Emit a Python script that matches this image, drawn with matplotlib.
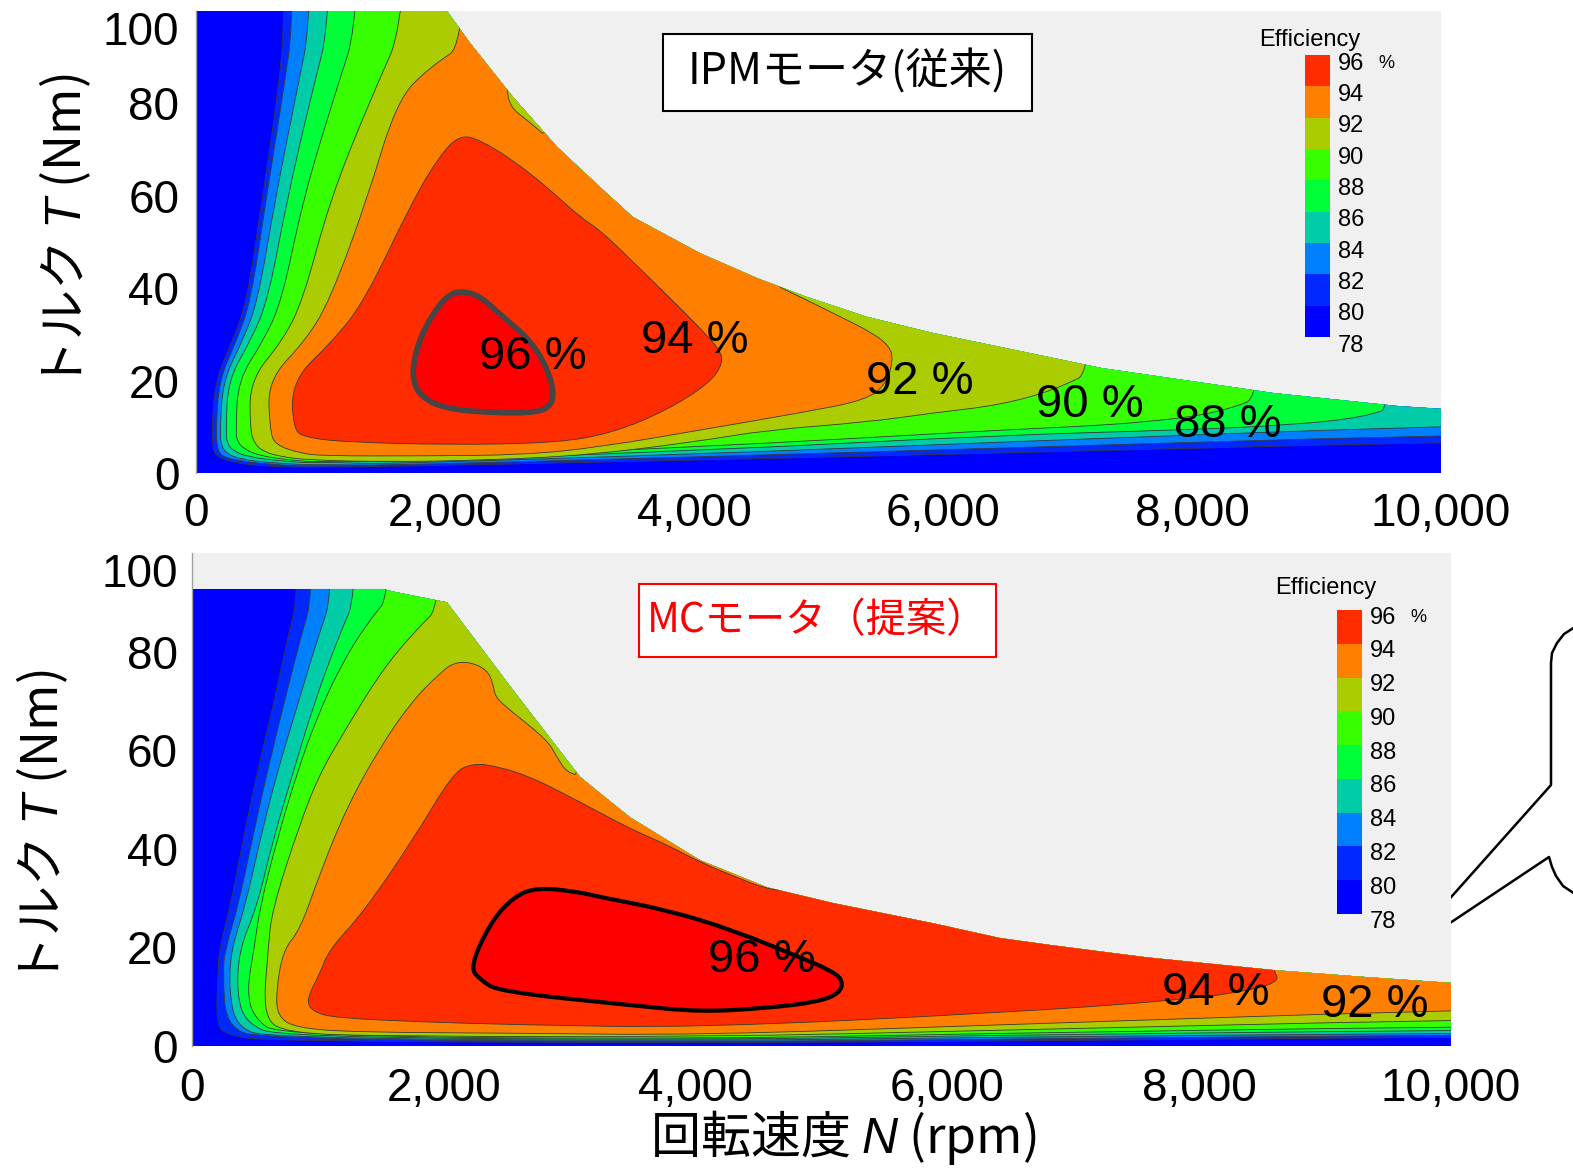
import matplotlib
matplotlib.use("Agg")
import matplotlib.pyplot as plt
from matplotlib.patches import Polygon, Rectangle, PathPatch
from matplotlib.path import Path
from matplotlib.lines import Line2D

plt.rcParams["font.family"] = ["Liberation Sans", "Noto Sans CJK JP", "DejaVu Sans"]
plt.rcParams["mathtext.fontset"] = "custom"
plt.rcParams["mathtext.it"] = "Liberation Sans:italic"
plt.rcParams["mathtext.rm"] = "Liberation Sans"

W, H = 1573, 1170
JP = ["Noto Sans CJK JP"]

# efficiency scale (%): one colour per 2-point band, the last one is the >=96 core
LEGEND_TICKS = [78, 80, 82, 84, 86, 88, 90, 92, 94, 96]
BAND_COLORS = ["#0000ff", "#0028ff", "#0080ff", "#00cca8", "#00ff38",
               "#38ff00", "#aacc00", "#ff8000", "#ff2c00", "#ff0000"]
SPEED_TICKS = [0, 2000, 4000, 6000, 8000, 10000]
TORQUE_TICKS = [0, 20, 40, 60, 80, 100]

# ---- IPM motor (conventional): (speed rpm, torque Nm) ----
ipm_envelope = [(0, 104.5), (1900, 104.5), (2016, 100.0), (2201, 93.1), (2546, 81.4),
                (2900, 70.6), (3245, 61.9), (3510, 55.4), (4048, 47.6), (4506, 42.2),
                (4908, 38.1), (5390, 33.8), (5920, 30.3), (6458, 27.3), (7277, 22.7),
                (8659, 17.3), (9655, 14.5), (10000, 13.9)]
ipm_80 = [(723, 100), (651, 80.7), (530, 59.1), (410, 37.4), (297, 28.8), (153, 20.1),
          (129, 9.3), (133, 5.6), (161, 3.7), (273, 2.4), (514, 1.5), (1020, 1.1),
          (4048, 2.8), (6458, 4.3), (10000, 6.7)]
ipm_82 = [(795, 100), (691, 80.7), (562, 59.1), (442, 37.4), (329, 28.8), (185, 20.1),
          (161, 9.3), (169, 5.6), (201, 3.7), (313, 2.8), (554, 1.9), (1020, 1.3),
          (4048, 3.5), (6458, 5.4), (10000, 8.2)]
ipm_84 = [(940, 100), (795, 80.7), (635, 59.1), (498, 37.4), (378, 28.8), (217, 20.1),
          (193, 9.3), (201, 6.1), (241, 4.3), (353, 3.0), (594, 2.2), (1020, 1.6),
          (4048, 4.1), (6458, 6.7), (10000, 10.2)]
ipm_86 = [(1100, 100), (916, 80.7), (731, 59.1), (578, 37.4), (442, 28.8), (257, 20.1),
          (241, 9.3), (249, 6.5), (297, 4.8), (418, 3.5), (675, 2.6), (1020, 2.0),
          (4048, 4.8), (6458, 8.2), (7920, 9.3), (8803, 10.4), (9390, 12.1), (9655, 14.8)]
ipm_88 = [(1333, 100), (1100, 80.7), (859, 59.1), (691, 37.4), (546, 28.8), (337, 20.1),
          (321, 9.3), (329, 6.9), (385, 5.2), (514, 3.7), (755, 2.8), (1020, 2.2),
          (4048, 5.6), (6458, 9.3), (7044, 10.0), (7630, 11.0), (8217, 13.0), (8659, 17.6)]
ipm_90 = [(1719, 100), (1398, 80.7), (1076, 59.1), (859, 37.4), (699, 28.8), (434, 20.1),
          (434, 9.3), (474, 6.1), (555, 4.5), (675, 3.6), (892, 2.8), (1558, 2.4),
          (2361, 2.8), (3165, 3.9), (4048, 6.9), (4586, 9.3), (5389, 11.0), (5920, 13.0),
          (6458, 14.7), (6900, 18.0), (7277, 23.0)]
ipm_92 = [(2201, 93.5), (1880, 87.9), (1614, 80.7), (1373, 59.1), (1076, 37.4), (884, 28.8),
          (578, 20.1), (594, 9.3), (635, 6.1), (835, 4.3), (1020, 3.7), (1823, 3.7),
          (2626, 3.9), (3245, 5.6), (4048, 9.3), (4851, 13.0), (5389, 15.8), (5550, 19.5),
          (5598, 24.5), (5574, 27.3), (5438, 30.3), (5116, 34.6), (4908, 37.4), (4506, 42.6)]
ipm_92_notch = [(2490, 84.0), (2522, 79.2), (2659, 76.4), (2900, 70.9)]
ipm_94 = [(2120, 73.2), (2281, 72.1), (2546, 67.7), (2819, 61.9), (3084, 55.4), (3245, 52.6),
          (3510, 45.7), (3783, 38.5), (4048, 31.4), (4209, 26.6), (4233, 23.8), (4128, 19.5),
          (3783, 13.6), (3350, 8.7), (2900, 6.5), (2016, 6.1), (1213, 6.7), (892, 7.6),
          (779, 9.3), (771, 20.1), (1108, 28.8), (1357, 37.4), (1743, 59.1), (1960, 68.8)]
ipm_96 = [(2144, 39.4), (2281, 38.3), (2466, 33.8), (2683, 28.8), (2819, 22.9), (2880, 17.0),
          (2830, 13.8), (2660, 13.0), (2418, 13.0), (2016, 13.8), (1799, 16.5), (1730, 21.0),
          (1780, 28.0), (1900, 34.5), (2030, 38.7)]
ipm_label_values = [96, 94, 92, 90, 88]
ipm_label_speed = [2707, 4008, 5815, 7181, 8289]
ipm_label_torque = [25.1, 28.6, 19.7, 14.7, 10.4]

# ---- MC motor (proposed) ----
mc_envelope = [(0, 92.7), (1517, 92.7), (1612, 92.1), (2025, 90.0), (2550, 72.2),
               (3082, 54.6), (3241, 51.3), (3479, 46.4), (4035, 37.7), (4567, 32.2),
               (5091, 29.0), (5886, 24.9), (6418, 21.9), (6815, 20.5), (7578, 18.0),
               (8594, 15.4), (9317, 14.0), (10000, 12.8)]
mc_80 = [(858, 93.0), (755, 82.3), (643, 68.8), (516, 55.4), (405, 41.8), (302, 28.2),
         (214, 19.5), (207, 14.8), (191, 4.7), (270, 2.2), (612, 1.0), (4003, 0.6),
         (6418, 1.0), (10000, 1.8)]
mc_82 = [(977, 93.0), (858, 82.3), (723, 68.8), (596, 55.4), (477, 41.8), (365, 28.2),
         (262, 19.5), (246, 14.8), (270, 3.9), (564, 1.4), (4003, 0.8), (6418, 1.4),
         (10000, 2.2)]
mc_84 = [(1136, 93.0), (993, 82.3), (834, 68.8), (675, 55.4), (540, 41.8), (421, 28.2),
         (310, 19.5), (294, 11.4), (350, 3.9), (612, 1.6), (4003, 1.0), (6418, 1.8),
         (10000, 2.6)]
mc_86 = [(1334, 93.0), (1152, 82.3), (961, 68.8), (802, 55.4), (643, 41.8), (516, 28.2),
         (373, 19.5), (357, 10.3), (429, 4.7), (691, 1.8), (4003, 1.2), (6418, 2.2),
         (10000, 3.2)]
mc_88 = [(1612, 92.5), (1390, 85.8), (1176, 76.9), (993, 66.7), (834, 55.4), (675, 41.8),
         (540, 28.2), (492, 19.5), (437, 11.4), (485, 5.9), (691, 2.0), (4003, 1.4),
         (6418, 2.6), (10000, 3.9)]
mc_90 = [(2025, 90.5), (1755, 83.8), (1493, 75.6), (1231, 64.7), (1017, 55.4), (858, 45.2),
         (635, 27.6), (604, 19.5), (564, 5.9), (747, 2.6), (1541, 2.0), (4003, 1.8),
         (6418, 3.2), (10000, 5.3)]
mc_92 = [(3106, 54.8), (2979, 55.4), (2899, 58.6), (2820, 62.1), (2526, 68.1), (2407, 70.8),
         (2391, 73.6), (2343, 76.3), (2208, 77.9), (2073, 77.7), (1970, 75.6), (1755, 70.2),
         (1493, 60.6), (1231, 48.5), (1017, 35.1), (858, 23.5), (723, 19.5), (667, 10.7),
         (683, 5.9), (826, 3.7), (1279, 2.8), (2597, 2.6), (4003, 2.2), (6418, 4.3),
         (10000, 7.3)]
mc_94 = [(4750, 31.5), (4567, 31.8), (4297, 34.5), (4035, 37.3), (3773, 40.8), (3503, 43.8),
         (3241, 47.3), (2947, 51.3), (2685, 54.6), (2446, 56.6), (2232, 57.4), (2073, 55.4),
         (1755, 41.8), (1358, 27.0), (1088, 19.5), (1017, 14.8), (906, 9.3), (961, 6.9),
         (1144, 5.7), (1803, 4.9), (2597, 4.3), (4003, 3.7), (6418, 6.7), (7864, 9.3),
         (8443, 11.4), (8650, 13.4), (8560, 15.9)]
mc_96 = [(2740, 32.2), (2550, 30.2), (2367, 24.9), (2208, 16.0), (2288, 13.4), (2446, 11.0),
         (3479, 8.3), (4035, 6.9), (4567, 7.7), (4964, 8.9), (5147, 10.7), (5171, 13.4),
         (5068, 15.4), (4829, 18.0), (4297, 23.5), (3773, 27.6), (3241, 30.2), (3082, 31.2)]
mc_label_values = [96, 94, 92]
mc_label_speed = [4528, 8134, 9397]
mc_label_torque = [17.4, 10.7, 8.3]


def fig_xy(x, y):
    """Pixel position (from top-left) to figure fraction."""
    return x / W, 1 - y / H


def band_color(level):
    return BAND_COLORS[(level - 78) // 2]


def close_outside(line):
    # an iso-efficiency line that starts/ends on the torque limit is closed
    # through the region above the limit, which the clip path removes
    n0, _ = line[0]
    n1, t1 = line[-1]
    if n1 >= 10000:
        tail = [(11000, t1), (11000, 200)]
    else:
        tail = [(n1, 200)]
    return list(line) + tail + [(n0, 200)]


def rounded(pts):
    """Closed outline drawn as quadratic curves between segment midpoints."""
    n = len(pts)
    mids = [((pts[i][0] + pts[(i + 1) % n][0]) / 2, (pts[i][1] + pts[(i + 1) % n][1]) / 2)
            for i in range(n)]
    verts, codes = [mids[-1]], [Path.MOVETO]
    for i in range(n):
        verts += [pts[i], mids[i]]
        codes += [Path.CURVE3, Path.CURVE3]
    verts.append(mids[-1])
    codes.append(Path.CLOSEPOLY)
    return Path(verts, codes)


def draw_map(ax, envelope, regions, core, core_edge, core_lw, labels):
    ax.set_facecolor("#f0f0f0")
    env = Polygon([(0, 0)] + envelope + [(10000, 0)], closed=True,
                  fc=BAND_COLORS[0], ec="none", zorder=1)
    ax.add_patch(env)
    for level, pts, closed in regions:
        patch = PathPatch(rounded(pts if closed else close_outside(pts)),
                          fc=band_color(level), ec="#383838", lw=0.6, zorder=2)
        ax.add_patch(patch)
        patch.set_clip_path(env)
    top = PathPatch(rounded(core), fc=BAND_COLORS[-1], ec=core_edge, lw=core_lw,
                    joinstyle="round", zorder=3)
    ax.add_patch(top)
    for value, n, t in zip(*labels):
        ax.text(n, t, f"{value} %", fontsize=34, ha="center", va="center", zorder=5)


def style_axes(ax, xpad, ypad):
    ax.set_xlim(0, 10000)
    ax.set_ylim(0, 100)
    ax.set_xticks(SPEED_TICKS, [f"{v:,}" for v in SPEED_TICKS])
    ax.set_yticks(TORQUE_TICKS, [str(v) for v in TORQUE_TICKS])
    ax.tick_params(axis="x", length=0, labelsize=33, pad=xpad)
    ax.tick_params(axis="y", length=0, labelsize=33, pad=ypad)
    ax.get_yticklabels()[-1].set_va("top")
    for side in ("top", "right", "bottom"):
        ax.spines[side].set_visible(False)
    ax.spines["left"].set_color("#a0a0a0")
    ax.spines["left"].set_linewidth(1.0)


def draw_legend(fig, left, top, width, height, shift, title_xy):
    x0, y0 = fig_xy(left, top + height)
    lax = fig.add_axes([x0, y0, width / W, height / H])
    lax.bar([0] * 9, [2] * 9, bottom=LEGEND_TICKS[:-1], width=1,
            color=BAND_COLORS[:9], linewidth=0)
    lax.set_xlim(-0.5, 0.5)
    lax.set_ylim(78, 96)
    lax.axis("off")
    for v in LEGEND_TICKS:
        lax.text(0.82, v - shift, str(v), fontsize=17, ha="left", va="center")
    lax.text(2.75, 96 - shift, "%", fontsize=13, ha="center", va="center")
    fig.text(*fig_xy(*title_xy), "Efficiency", fontsize=17, ha="center", va="center")


def title_box(fig, text, box, color, fontsize):
    x1, y1, x2, y2 = box
    fig.add_artist(Rectangle(fig_xy(x1, y2), (x2 - x1) / W, (y2 - y1) / H,
                             transform=fig.transFigure, fc="white", ec=color, lw=1.5))
    fig.text(*fig_xy((x1 + x2) / 2, (y1 + y2) / 2), text, family=JP, color=color,
             fontsize=fontsize, ha="center", va="center")


fig = plt.figure(figsize=(W / 100, H / 100), dpi=100)

ax_top = fig.add_axes([196 / W, 1 - 473 / H, 1245 / W, 462 / H])
draw_map(ax_top, ipm_envelope,
         [(80, ipm_80, False), (82, ipm_82, False), (84, ipm_84, False),
          (86, ipm_86, False), (88, ipm_88, False), (90, ipm_90, False),
          (92, ipm_92, False), (90, ipm_92_notch, False), (94, ipm_94, True)],
         ipm_96, "#454545", 4.0,
         (ipm_label_values, ipm_label_speed, ipm_label_torque))
style_axes(ax_top, xpad=14, ypad=12)

ax_bot = fig.add_axes([192 / W, 1 - 1046 / H, 1259 / W, 493 / H])
draw_map(ax_bot, mc_envelope,
         [(80, mc_80, False), (82, mc_82, False), (84, mc_84, False),
          (86, mc_86, False), (88, mc_88, False), (90, mc_90, False),
          (92, mc_92, False), (94, mc_94, False)],
         mc_96, "black", 3.0,
         (mc_label_values, mc_label_speed, mc_label_torque))
style_axes(ax_bot, xpad=15, ypad=10)

draw_legend(fig, 1305, 55, 25, 282, 0.55, (1310, 40))
draw_legend(fig, 1337, 610, 25, 304, 0.45, (1326, 588))

title_box(fig, "IPMモータ(従来)", (663, 34, 1032, 111), "black", 31)
title_box(fig, "MCモータ（提案）", (639, 584, 996, 657), "#ff0000", 29)

fig.text(*fig_xy(65, 232), "トルク $T$ (Nm)", family=JP, fontsize=36,
         rotation=90, ha="center", va="center")
fig.text(*fig_xy(42, 828), "トルク $T$ (Nm)", family=JP, fontsize=36,
         rotation=90, ha="center", va="center")
fig.text(*fig_xy(843, 1167), "回転速度 $N$ (rpm)", family=JP, fontsize=36,
         ha="center", va="bottom")

# speech bubble at the right edge, partly hidden behind the lower map
bubble = [[(1575, 627), (1564, 634), (1557, 643), (1552, 653), (1551, 663),
           (1551, 785), (1420, 932)],
          [(1420, 943), (1549, 857), (1552, 867), (1556, 876), (1563, 886), (1575, 894)]]
for seg in bubble:
    xs, ys = zip(*[fig_xy(x, y) for x, y in seg])
    fig.add_artist(Line2D(xs, ys, transform=fig.transFigure, color="black",
                          lw=1.8, zorder=-1))

fig.savefig("out.png", dpi=100)
